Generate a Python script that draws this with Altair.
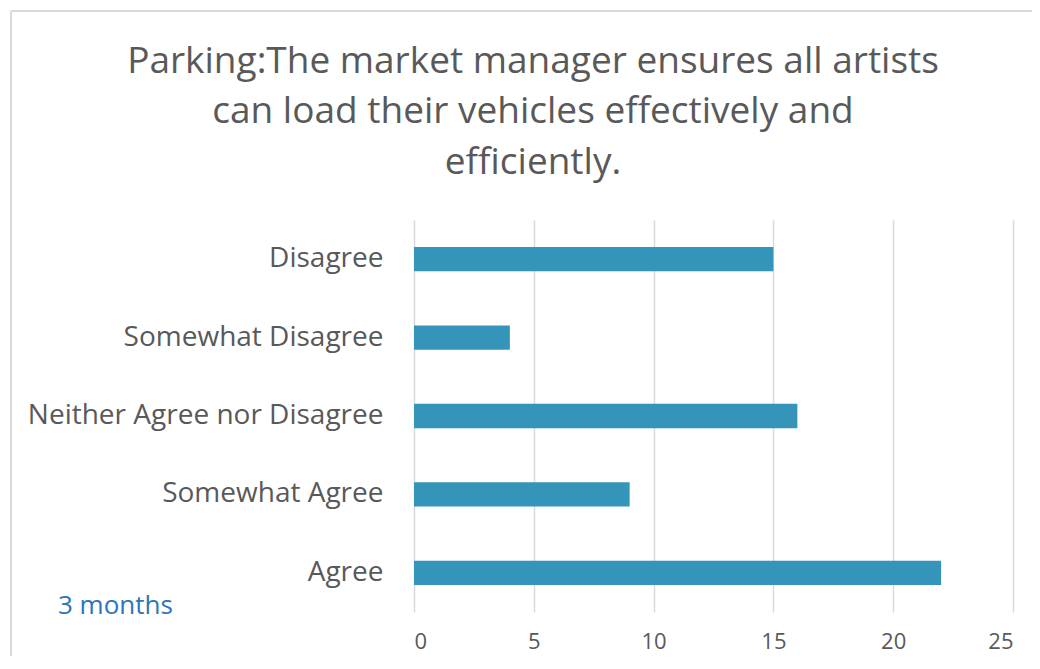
import altair as alt
import pandas as pd

categories = ["Disagree", "Somewhat Disagree", "Neither Agree nor Disagree", "Somewhat Agree", "Agree"]
values = [15, 4, 16, 9, 22]
title_lines = ["Parking:The market manager ensures all artists",
               "can load their vehicles effectively and",
               "efficiently."]
series_name = "3 months"

df = pd.DataFrame({"category": categories, "count": values})

FONT = "Open Sans"
GREY = "#595959"

bars = alt.Chart(df).mark_bar(color="#3494BA").encode(
    x=alt.X("count:Q",
            scale=alt.Scale(domain=[0, 25]),
            axis=alt.Axis(values=[0, 5, 10, 15, 20, 25], title=None, domain=False, ticks=False,
                          grid=True, gridColor="#d9d9d9", gridWidth=1.5,
                          labelFont=FONT, labelFontSize=22, labelColor=GREY, labelPadding=19)),
    y=alt.Y("category:N", sort=categories,
            scale=alt.Scale(paddingInner=0.69, paddingOuter=0.345),
            axis=alt.Axis(title=None, domain=False, ticks=False, grid=False,
                          labelFont=FONT, labelFontSize=28, labelColor=GREY, labelPadding=31,
                          labelLimit=500)),
)

legend_txt = alt.Chart(pd.DataFrame({"t": [series_name]})).mark_text(
    font=FONT, fontSize=26, color="#2E75B6", align="left", baseline="middle"
).encode(text="t:N", x=alt.value(-356), y=alt.value(386))

title_y = [-147, -97, -46]
title_layers = [
    alt.Chart(pd.DataFrame({"t": [line]})).mark_text(
        font=FONT, fontSize=37, color=GREY, align="center", baseline="alphabetic"
    ).encode(text="t:N", x=alt.value(119), y=alt.value(yy))
    for line, yy in zip(title_lines, title_y)
]

border_left = alt.Chart(pd.DataFrame({"a": [0]})).mark_rule(color="#d9d9d9", strokeWidth=2).encode(
    x=alt.value(-403), y=alt.value(-209), y2=alt.value(450))
border_top = alt.Chart(pd.DataFrame({"a": [0]})).mark_rule(color="#d9d9d9", strokeWidth=2).encode(
    x=alt.value(-403), x2=alt.value(640), y=alt.value(-209))

chart = alt.layer(border_left, border_top, bars, legend_txt, *title_layers).properties(
    width=599, height=392,
    autosize=alt.AutoSizeParams(type="none"),
    padding={"left": 406, "top": 212, "right": 19, "bottom": 44},
).configure(background="white", view=alt.ViewConfig(stroke=None))

chart.save("out.html", embed_options={"renderer": "svg", "actions": False})
